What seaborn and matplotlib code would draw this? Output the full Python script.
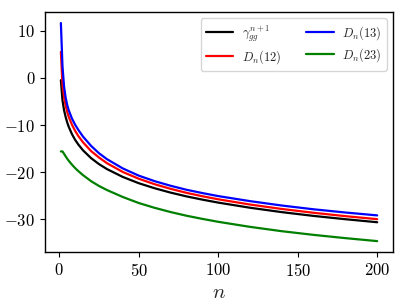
import matplotlib
matplotlib.use("Agg")
import matplotlib.pyplot as plt
import pandas as pd
import seaborn as sns

# values
n_vals = [1, 2, 3, 4, 5, 6, 8, 10, 12, 15, 20, 25, 30, 40, 50, 60, 70, 80, 90, 100,
          120, 140, 160, 180, 200]
gamma_gg = [-0.5, -4.74, -6.86, -8.30, -9.48, -10.43, -11.95, -13.16, -14.15, -15.39,
            -17.02, -18.29, -19.34, -21.01, -22.33, -23.40, -24.32, -25.12, -25.81, -26.44,
            -27.53, -28.46, -29.26, -29.96, -30.60]
d12 = [5.5, -1.44, -4.16, -5.90, -7.28, -8.33, -9.95, -11.26, -12.35, -13.69,
       -15.52, -16.89, -18.09, -19.96, -21.38, -22.55, -23.52, -24.37, -25.09, -25.74,
       -26.85, -27.79, -28.60, -29.31, -29.95]
d13 = [11.6, 2.46, -1.86, -4.20, -5.78, -6.93, -8.65, -9.96, -11.05, -12.49,
       -14.42, -15.99, -17.24, -19.21, -20.73, -21.90, -22.87, -23.72, -24.42, -25.06,
       -26.13, -27.06, -27.86, -28.54, -29.15]
d23 = [-15.6, -15.6, -16.10, -16.65, -17.15, -17.60, -18.42, -19.14, -19.78, -20.64,
       -21.90, -22.92, -23.78, -25.26, -26.53, -27.55, -28.44, -29.22, -29.89, -30.51,
       -31.58, -32.50, -33.28, -33.97, -34.6]

labels = [r"$\gamma_{gg}^{n+1}$", r"$D_n(12)$", r"$D_n(13)$", r"$D_n(23)$"]
colors = ["black", "red", "blue", "green"]

sns.set_style("ticks")
plt.rcParams["font.family"] = "serif"
plt.rcParams["font.serif"] = ["cmr10", "DejaVu Serif"]
plt.rcParams["mathtext.fontset"] = "cm"
plt.rcParams["axes.formatter.use_mathtext"] = True

frames = []
for lab, vals in zip(labels, [gamma_gg, d12, d13, d23]):
    frames.append(pd.DataFrame({"n": n_vals, "value": vals, "curve": lab}))
df = pd.concat(frames, ignore_index=True)

fig = plt.figure(figsize=(4.06, 3.04), dpi=100)
ax = fig.add_axes([0.111, 0.171, 0.857, 0.789])
sns.lineplot(data=df, x="n", y="value", hue="curve", hue_order=labels,
             palette=colors, linewidth=1.6, ax=ax)

for s in ax.spines.values():
    s.set_color("black")
    s.set_linewidth(1.0)
ax.tick_params(labelsize=12, length=3.5, width=0.8, colors="black")
ax.set_xticks([0, 50, 100, 150, 200])
ax.set_yticks([10, 0, -10, -20, -30])
ax.set_xlabel(r"$n$", fontsize=15)
ax.set_ylabel("")

handles, labs = ax.get_legend_handles_labels()
ax.legend(handles, labs, ncol=2, fontsize=9, loc="upper right",
          labelspacing=0.35, columnspacing=2.0, handlelength=2.2,
          handletextpad=0.7)

fig.savefig("out.png", dpi=100)
